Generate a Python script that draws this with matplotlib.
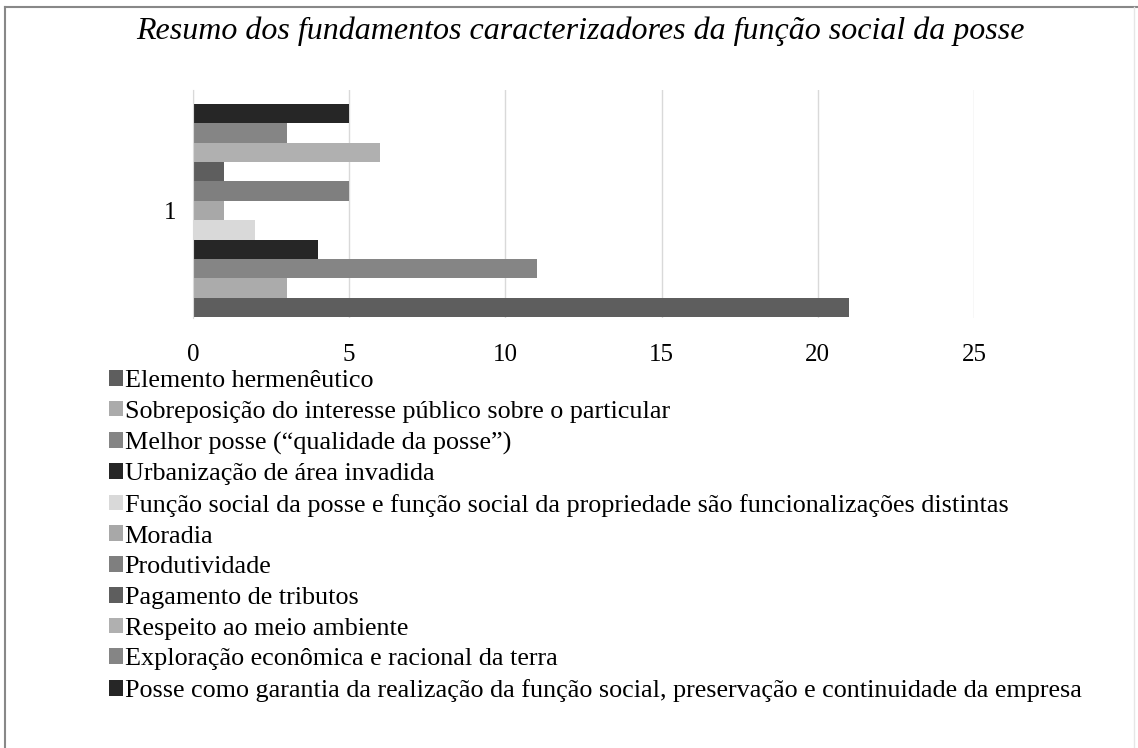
import matplotlib
matplotlib.use('Agg')
import matplotlib.pyplot as plt
from matplotlib.lines import Line2D

# Dados (ordem da série, de baixo para cima no gráfico)
series = [
    'Elemento hermenêutico',
    'Sobreposição do interesse público sobre o particular',
    'Melhor posse (“qualidade da posse”)',
    'Urbanização de área invadida',
    'Função social da posse e função social da propriedade são funcionalizações distintas',
    'Moradia',
    'Produtividade',
    'Pagamento de tributos',
    'Respeito ao meio ambiente',
    'Exploração econômica e racional da terra',
    'Posse como garantia da realização da função social, preservação e continuidade da empresa',
]
valores = [21, 3, 11, 4, 2, 1, 5, 1, 6, 3, 5]
cores = ['#5e5e5e', '#ababab', '#858585', '#262626', '#d9d9d9',
         '#a8a8a8', '#7f7f7f', '#5e5e5e', '#b0b0b0', '#858585', '#262626']
categoria = ['1']
xticks = [0, 5, 10, 15, 20, 25]

plt.rcParams['font.family'] = ['Liberation Serif', 'DejaVu Serif']

fig = plt.figure(figsize=(11.38, 7.48), dpi=100)
ax = fig.add_axes([193 / 1138, 1 - 318 / 748, 781 / 1138, 228 / 748])

n = len(series)
for i, (nome, v, c) in enumerate(zip(series, valores, cores)):
    ax.barh(i - (n - 1) / 2, v, height=1, color=c, label=nome)

ax.set_xlim(0, 25)
ax.set_ylim(-5.55, 6.22)
ax.set_xticks(xticks)
ax.set_xticklabels([str(t) for t in xticks], fontsize=18)
ax.set_yticks([0])
ax.set_yticklabels(categoria, fontsize=18)
ax.tick_params(axis='x', length=0, pad=19)
ax.tick_params(axis='y', length=0, pad=12)
ax.xaxis.grid(True, color='#d9d9d9', linewidth=1)
ax.set_axisbelow(True)
for s in ['top', 'right', 'bottom']:
    ax.spines[s].set_visible(False)
ax.spines['left'].set_color('#d9d9d9')

fig.text(580 / 1138, 1 - 31 / 748, 'Resumo dos fundamentos caracterizadores da função social da posse',
         ha='center', va='center', fontsize=23, style='italic')

handles, labels = ax.get_legend_handles_labels()
fig.legend(handles, labels, loc='upper left', bbox_to_anchor=(109 / 1138, 1 - 370 / 748),
           frameon=False, fontsize=18.8, handlelength=0.55, handleheight=0.55,
           handletextpad=0.05, labelspacing=0.33, borderpad=0, borderaxespad=0)

# moldura da imagem
fig.add_artist(Line2D([5 / 1138, 5 / 1138], [0, 1 - 7 / 748], color='#888888', lw=1.5))
fig.add_artist(Line2D([5 / 1138, 1], [1 - 7 / 748, 1 - 7 / 748], color='#888888', lw=1.5))
fig.add_artist(Line2D([1134 / 1138, 1134 / 1138], [0, 1 - 7 / 748], color='#e6e6e6', lw=1))

fig.savefig('out.png', dpi=100)
